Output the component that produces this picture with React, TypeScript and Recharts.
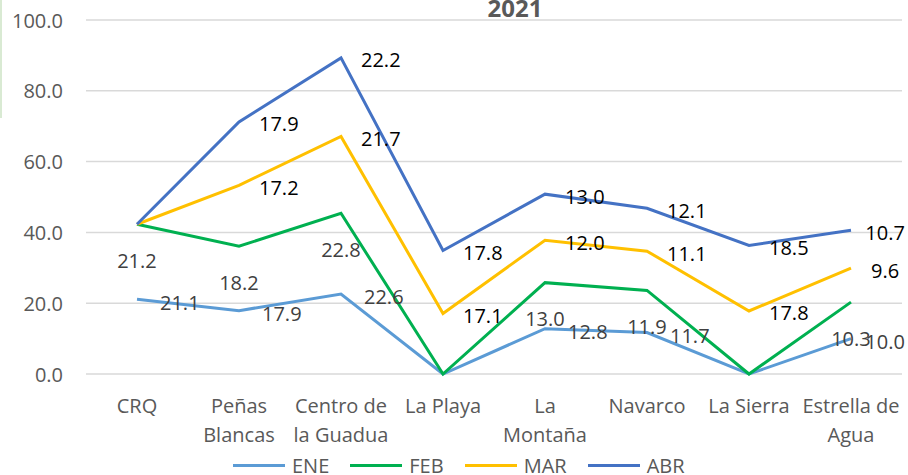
import React from 'react';
import { LineChart, Line, XAxis, YAxis, CartesianGrid, LabelList } from 'recharts';

const categories = ['CRQ', 'Peñas Blancas', 'Centro de la Guadua', 'La Playa', 'La Montaña', 'Navarco', 'La Sierra', 'Estrella de Agua'];
const categoryLines = [['CRQ'], ['Peñas', 'Blancas'], ['Centro de', 'la Guadua'], ['La Playa'], ['La', 'Montaña'], ['Navarco'], ['La Sierra'], ['Estrella de', 'Agua']];
const ene = [21.1, 17.9, 22.6, 0, 12.8, 11.7, 0, 10.0];
const feb = [21.2, 18.2, 22.8, 0, 13.0, 11.9, 0, 10.3];
const mar = [0, 17.2, 21.7, 17.1, 12.0, 11.1, 17.8, 9.6];
const abr = [0, 17.9, 22.2, 17.8, 13.0, 12.1, 18.5, 10.7];
const yTicks = [0, 20, 40, 60, 80, 100];
const title = '2021';

const series = [
  { key: 'ENE', values: ene, color: '#5B9BD5', labelColor: '#404040', dx: 23, dy: 3, anchor: 'start' },
  { key: 'FEB', values: feb, color: '#00B050', labelColor: '#404040', dx: 0, dy: 36, anchor: 'middle' },
  { key: 'MAR', values: mar, color: '#FFC000', labelColor: '#000000', dx: 20, dy: 2, anchor: 'start' },
  { key: 'ABR', values: abr, color: '#4472C4', labelColor: '#000000', dx: 20, dy: 2, anchor: 'start' },
];

const data = categories.map((name, i) => {
  const row: Record<string, any> = { name, idx: i };
  let cum = 0;
  series.forEach((s) => {
    cum += s.values[i];
    row[s.key] = s.values[i];
    row[s.key + '_c'] = Math.round(cum * 10) / 10;
  });
  return row;
});

const FONT = '"Open Sans", sans-serif';
const FS = 20;
const RIGHT_LIMIT = 905;

const textWidth = (t: string) => {
  let w = 0;
  for (const c of t) w += c === '.' ? 0.266 : 0.572;
  return w * FS;
};

const makeLabel = (s: any) => (props: any) => {
  const { x, y, value } = props;
  if (!value) return null;
  const txt = Number(value).toFixed(1);
  const w = textWidth(txt);
  let left = s.anchor === 'middle' ? x + s.dx - w / 2 : x + s.dx;
  if (left + w > RIGHT_LIMIT) left = RIGHT_LIMIT - w;
  return (
    <text
      x={left}
      y={y + s.dy}
      textAnchor="start"
      dominantBaseline="central"
      fill={s.labelColor}
      fontSize={FS}
      fontFamily={FONT}
    >
      {txt}
    </text>
  );
};

const YTick = (props: any) => {
  const { x, y, payload } = props;
  return (
    <text x={x} y={y} textAnchor="end" dominantBaseline="central" fill="#595959" fontSize={FS} fontFamily={FONT}>
      {Number(payload.value).toFixed(1)}
    </text>
  );
};

const XTick = (props: any) => {
  const { x, y, index } = props;
  const lines = categoryLines[index] || [];
  return (
    <text x={x} y={y + 39} textAnchor="middle" fill="#595959" fontSize={FS} fontFamily={FONT}>
      {lines.map((l, i) => (
        <tspan key={i} x={x} dy={i === 0 ? 0 : 29}>
          {l}
        </tspan>
      ))}
    </text>
  );
};

export default function App() {
  return (
    <div style={{ position: 'relative', width: 908, height: 475, overflow: 'hidden', background: '#fff' }}>
      <style>{`body{margin:0}`}</style>
      <div style={{ position: 'absolute', left: 0, top: 0, width: 2, height: 118, background: '#d9ead3' }} />
      <LineChart width={908} height={475} data={data} margin={{ top: 20, right: 6, left: 0, bottom: 0 }}>
        <CartesianGrid vertical={false} stroke="#D9D9D9" strokeWidth={1.5} />
        <XAxis
          dataKey="name"
          axisLine={false}
          tickLine={false}
          tickSize={0}
          tickMargin={0}
          height={101}
          padding={{ left: 51, right: 51 }}
          interval={0}
          tick={<XTick />}
        />
        <YAxis
          domain={[0, 100]}
          ticks={yTicks}
          width={86}
          axisLine={false}
          tickLine={false}
          tickSize={0}
          tickMargin={23}
          tick={<YTick />}
        />
        {series.map((s) => (
          <Line
            key={s.key}
            type="linear"
            dataKey={s.key + '_c'}
            stroke={s.color}
            strokeWidth={3}
            dot={false}
            activeDot={false}
            isAnimationActive={false}
          >
            <LabelList dataKey={s.key} content={makeLabel(s)} />
          </Line>
        ))}
      </LineChart>
      <div
        style={{
          position: 'absolute',
          left: 0,
          width: 1030,
          top: 0,
          textAlign: 'center',
          fontFamily: FONT,
          fontWeight: 700,
          fontSize: 24,
          color: '#595959',
          lineHeight: '16px',
          height: 16,
        }}
      >
        {title}
      </div>
      <div
        style={{
          position: 'absolute',
          left: 233,
          top: 456,
          height: 19,
          display: 'flex',
          alignItems: 'center',
          fontFamily: FONT,
          fontSize: FS,
          lineHeight: '19px',
          color: '#595959',
        }}
      >
        {series.map((s) => (
          <div key={s.key} style={{ display: 'flex', alignItems: 'center', marginRight: 21 }}>
            <div style={{ width: 52, height: 3, background: s.color, marginRight: 7 }} />
            <span>{s.key}</span>
          </div>
        ))}
      </div>
    </div>
  );
}
